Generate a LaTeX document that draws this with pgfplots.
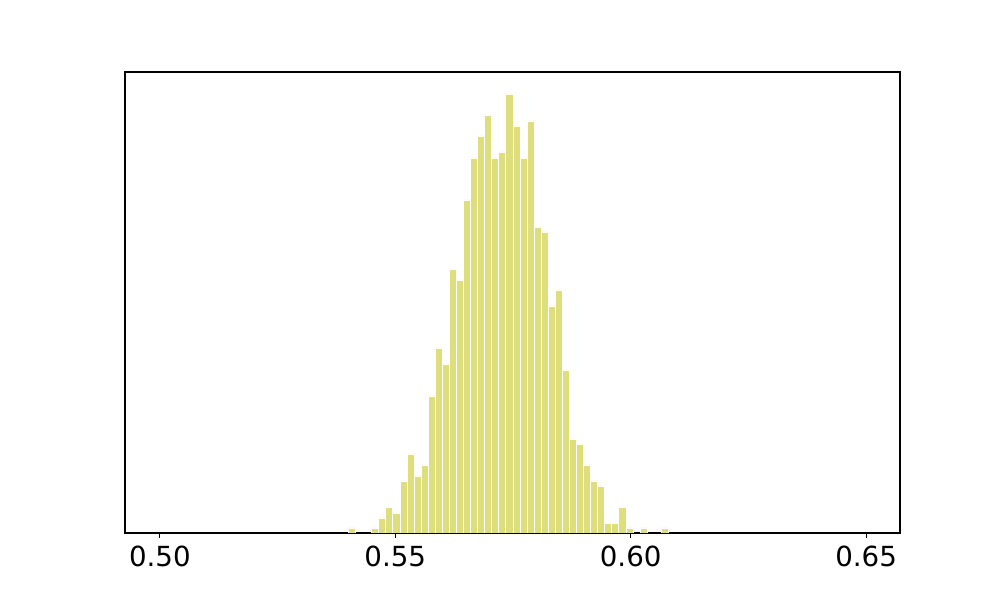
\documentclass[border=0pt]{standalone}
\usepackage{fontspec}
\setmainfont{DejaVu Sans}
\usepackage{pgfplots}
\pgfplotsset{compat=1.18}
\definecolor{olivebar}{HTML}{DEDE7C}

\begin{document}
\begin{tikzpicture}
\begin{axis}[
  scale only axis,
  width=7.75in,height=4.61in,
  xmin=0.49259,xmax=0.6572,
  ymin=0,ymax=461,
  xtick={0.50,0.55,0.60,0.65},
  xtick pos=bottom,
  ytick=\empty,
  tick align=outside,
  major tick length=0.049in,
  tick style={line width=0.8pt,black},
  axis line style={line width=0.8pt},
  xticklabel style={font=\fontsize{20}{24}\selectfont,yshift=-2pt},
  /pgf/number format/assume math mode=true,
  /pgf/number format/fixed,/pgf/number format/fixed zerofill,/pgf/number format/precision=2,
  scaled x ticks=false,
]
\addplot[ybar,bar width=0.0015,bar shift=0pt,fill=olivebar,draw=white,line width=0.7pt]
coordinates {
(0.54075,5) (0.54575,5) (0.54725,15) (0.54875,26) (0.55025,20)
(0.55175,52) (0.55325,79) (0.55475,57) (0.55625,68) (0.55775,137)
(0.55925,185) (0.56075,169) (0.56225,264) (0.56375,253) (0.56525,333)
(0.56675,375) (0.56825,397) (0.56975,418) (0.57125,375) (0.57275,381)
(0.57425,439) (0.57575,407) (0.57725,375) (0.57875,412) (0.58025,306)
(0.58175,301) (0.58325,227) (0.58475,243) (0.58625,163) (0.58775,94)
(0.58925,89) (0.59075,68) (0.59225,52) (0.59375,47) (0.59525,10)
(0.59675,10) (0.59825,26) (0.59975,5) (0.60275,5) (0.60725,5)
};
\end{axis}
\path ([xshift=-1.25in,yshift=-0.67in]current axis.south west) rectangle ([xshift=1.0in,yshift=0.72in]current axis.north east);
\end{tikzpicture}
\end{document}
